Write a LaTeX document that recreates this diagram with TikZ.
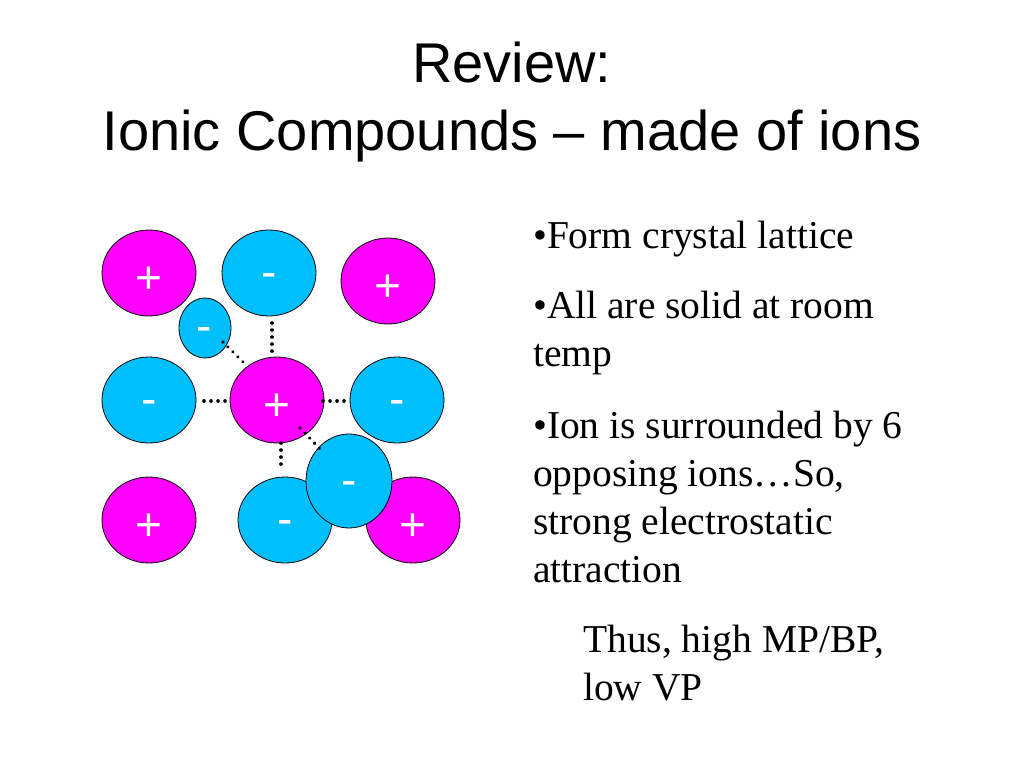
\documentclass[tikz,border=0pt]{standalone}
\usepackage{fontspec}
\setmainfont{Liberation Serif}
\newfontfamily\arial{Liberation Sans}
\definecolor{mag}{HTML}{FF00FF}
\definecolor{cyn}{HTML}{00BFFF}
\begin{document}
\begin{tikzpicture}[x=1pt,y=-1pt,
  sign/.style={text=white,font=\arial\fontsize{46}{46}\selectfont},
  dots/.style={line width=3.6pt,dash pattern=on 0.01pt off 7pt,line cap=round},
  ttl/.style={font=\arial\fontsize{56}{60}\selectfont,anchor=base},
  txt/.style={font=\fontsize{39.5}{44}\selectfont,anchor=base west,inner sep=0pt}]
\useasboundingbox (0,0) rectangle (1024,768);
\tikzset{ionline/.style={draw=black,line width=0.8pt}}
\fill[mag,ionline] (149,273) ellipse [x radius=47,y radius=43]; \node[sign] (a1) at (149,280) {+};
\fill[cyn,ionline] (269,273) ellipse [x radius=47,y radius=43]; \node[sign] (a2) at (269,280) {-};
\fill[mag,ionline] (388,281) ellipse [x radius=47,y radius=43]; \node[sign] (a3) at (388,288) {+};
\fill[cyn,ionline] (205,328) ellipse [x radius=26,y radius=30]; \node[sign] (s1) at (204,334) {-};
\fill[cyn,ionline] (149,400) ellipse [x radius=47,y radius=43]; \node[sign] (b1) at (149,407) {-};
\fill[mag,ionline] (277,400) ellipse [x radius=47,y radius=43]; \node[sign] (b2) at (277,407) {+};
\fill[cyn,ionline] (397,400) ellipse [x radius=47,y radius=43]; \node[sign] (b3) at (397,407) {-};
\fill[mag,ionline] (149,520) ellipse [x radius=47,y radius=43]; \node[sign] (c1) at (149,527) {+};
\fill[cyn,ionline] (285,520) ellipse [x radius=47,y radius=43]; \node[sign] (c2) at (285,527) {-};
\fill[mag,ionline] (413,520) ellipse [x radius=47,y radius=43]; \node[sign] (c3) at (413,527) {+};
\fill[cyn,ionline] (349,481) ellipse [x radius=43,y radius=47]; \node[sign] (d1) at (349,488) {-};
% dotted bonds
\coordinate (p1) at (272,323); \coordinate (q1) at (272,352);
\coordinate (p2) at (223,342); \coordinate (q2) at (243,362);
\coordinate (p3) at (204,401); \coordinate (q3) at (230,401);
\coordinate (p4) at (323,401); \coordinate (q4) at (351,401);
\coordinate (p5) at (281,443); \coordinate (q5) at (281,470);
\coordinate (p6) at (300,428); \coordinate (q6) at (320,449);
\foreach \i in {1,...,6} \draw[dots] (p\i) -- (q\i);
% title
\node[ttl] (t1) at (512,82) {Review:};
\node[ttl] (t2) at (512,150) {Ionic Compounds – made of ions};
% text
\node[txt] (l1) at (533,248) {•Form crystal lattice};
\node[txt] (l2) at (533,318) {•All are solid at room};
\node[txt] (l3) at (533,366) {temp};
\node[txt] (l4) at (533,438) {•Ion is surrounded by 6};
\node[txt] (l5) at (533,486) {opposing ions…So,};
\node[txt] (l6) at (533,534) {strong electrostatic};
\node[txt] (l7) at (533,582) {attraction};
\node[txt] (l8) at (583,652) {Thus, high MP/BP,};
\node[txt] (l9) at (583,700) {low VP};
\end{tikzpicture}
\end{document}
